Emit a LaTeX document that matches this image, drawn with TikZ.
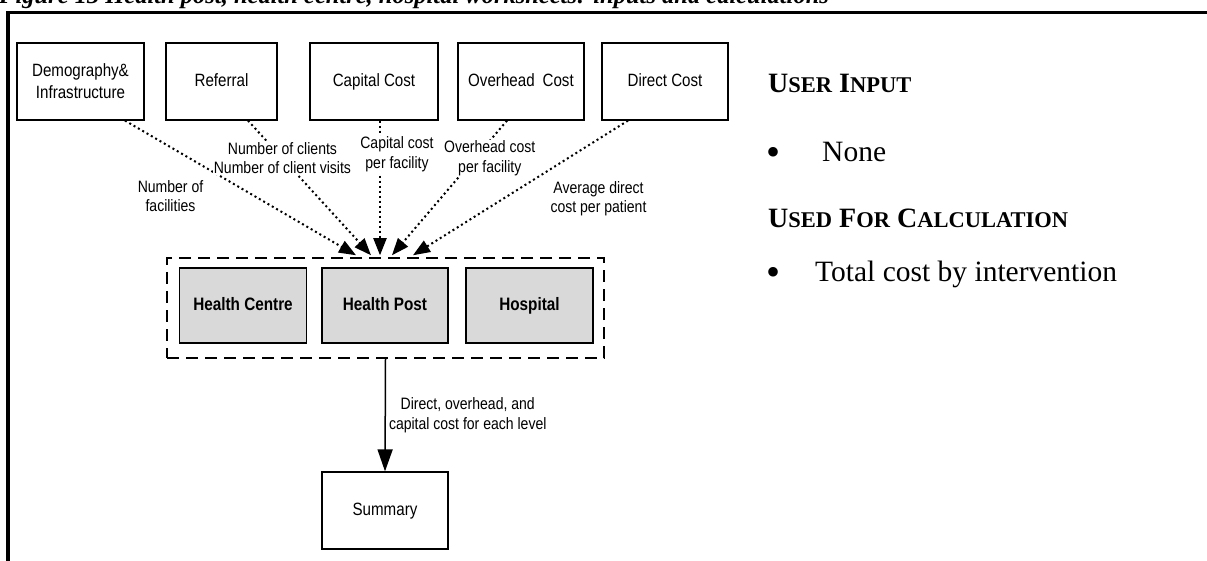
\documentclass[tikz,border=0pt]{standalone}
\usepackage{fontspec}
\setmainfont{Liberation Serif}
\newfontfamily\narrowsans[FakeStretch=0.85]{Liberation Sans}
\usetikzlibrary{arrows.meta}
\newcommand\smallcap[1]{{\fontsize{22.5}{26}\selectfont #1}}
\begin{document}
\begin{tikzpicture}[x=1pt,y=-1pt,
    inbox/.style={draw,line width=1.2pt,minimum height=77pt,inner sep=2pt,align=center,
      font=\narrowsans\fontsize{17.8}{22}\selectfont},
    oneline/.style={text height=12.8pt,text depth=3.5pt},
    levelbox/.style={draw,line width=1.2pt,fill=black!15,minimum width=127pt,minimum height=75pt,
      text height=13pt,text depth=3.5pt,font=\narrowsans\bfseries\fontsize{18}{20}\selectfont},
    feed/.style={line width=2pt,dash pattern=on 2pt off 3pt,-{Triangle[length=17pt,width=13pt]}},
    lbl/.style={font=\narrowsans\fontsize{16.5}{19.5}\selectfont,align=center,inner sep=1pt},
    side/.style={anchor=base west,inner sep=0pt,font=\fontsize{29.5}{34}\selectfont},
    dot/.style={anchor=base west,inner sep=0pt,font=\fontsize{40}{40}\selectfont},
    head/.style={anchor=base west,inner sep=0pt,font=\bfseries\fontsize{28}{32}\selectfont}]
    \useasboundingbox (0,0) rectangle (1207,561);
    \node[anchor=base west,inner sep=0pt,font=\bfseries\itshape\fontsize{24.5}{26}\selectfont] (title) at (-1,3.5)
        {Figure 13 Health post, health centre, hospital worksheets: inputs and calculations};
    \draw[line width=3.5pt] (8,565) -- (8,12.5) -- (1210,12.5);
    % worksheets feeding the levels
    \node[inbox,minimum width=127pt] (demog) at (80.5,81.5) {Demography\&\\Infrastructure};
    \node[inbox,oneline,minimum width=111pt] (referral) at (221.5,81.5) {Referral};
    \node[inbox,oneline,minimum width=128pt] (capital) at (374,81.5) {Capital Cost};
    \node[inbox,oneline,minimum width=126pt] (overhead) at (521,81.5) {Overhead\hspace{8pt}Cost};
    \node[inbox,oneline,minimum width=126pt] (direct) at (665,81.5) {Direct Cost};
    % the three levels
    \node[draw,line width=1.5pt,dash pattern=on 12pt off 7pt,minimum width=437pt,minimum height=100pt] (levels) at (385.5,308) {};
    \node[levelbox] (centre) at (243,305.5) {Health Centre};
    \node[levelbox,minimum width=126pt] (post) at (385,305.5) {Health Post};
    \node[levelbox] (hospital) at (529.5,305.5) {Hospital};
    \node[inbox,oneline,minimum width=126pt] (summary) at (385,510.5) {Summary};
    \draw[feed] ([xshift=44.5pt]demog.south) -- ([xshift=-29.5pt,yshift=2pt]levels.north)
        node[pos=0.5,xshift=-70pt,yshift=-8pt,lbl] {Number of\\facilities};
    \draw[feed] ([xshift=26.5pt]referral.south) -- ([xshift=-14.5pt,yshift=2pt]levels.north)
        node[pos=0.28,lbl,fill=white] {Number of clients\\Number of client visits};
    \draw[feed] ([xshift=6pt]capital.south) -- ([xshift=-5.5pt,yshift=2pt]levels.north)
        node[pos=0.25,xshift=17pt,lbl,fill=white] {Capital cost\\per facility};
    \draw[feed] ([xshift=-14pt]overhead.south) -- ([xshift=6.5pt,yshift=2pt]levels.north)
        node[pos=0.28,xshift=15pt,lbl,fill=white] {Overhead cost\\per facility};
    \draw[feed] ([xshift=-37pt]direct.south) -- ([xshift=27.5pt,yshift=2pt]levels.north)
        node[pos=0.5,xshift=78pt,yshift=-11pt,lbl] {Average direct\\cost per patient};
    \draw[line width=1.5pt,-{Triangle[length=22pt,width=15pt]}] (levels.south) -- (summary.north)
        node[midway,right,lbl,inner sep=3pt] {Direct, overhead, and\\capital cost for each level};
    % notes on the right
    \node[head] (userin) at (768,93) {U\smallcap{SER} I\smallcap{NPUT}};
    \node[dot] (bulleta) at (766,166) {•};
    \node[side] (none) at (822,162) {None};
    \node[head] (usedfor) at (768,228) {U\smallcap{SED} F\smallcap{OR} C\smallcap{ALCULATION}};
    \node[dot] (bulletb) at (766,286) {•};
    \node[side] (total) at (815,282) {Total cost by intervention};
\end{tikzpicture}
\end{document}
